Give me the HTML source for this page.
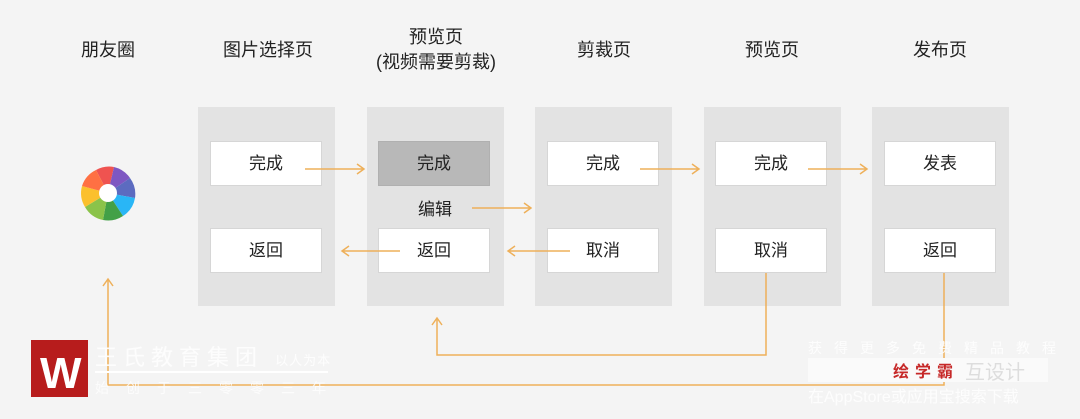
<!DOCTYPE html>
<html><head><meta charset="utf-8"><style>
body{margin:0;width:1080px;height:419px;background:#f4f4f4;font-family:"Liberation Sans","Noto Sans CJK SC",sans-serif;position:relative;overflow:hidden}
.t{position:absolute;font-size:18px;color:#222;text-align:center;width:160px;line-height:25px}
.p{position:absolute;top:107px;width:137px;height:199px;background:#e3e3e3}
.b{position:absolute;width:112px;height:45px;background:#fff;border:1px solid #d6d6d6;box-sizing:border-box;font-size:17px;color:#222;text-align:center;line-height:44px}
</style></head><body>
<div class="t" style="left:28px;top:38px">朋友圈</div>
<div class="t" style="left:188px;top:38px">图片选择页</div>
<div class="t" style="left:356px;top:25px">预览页<br>(视频需要剪裁)</div>
<div class="t" style="left:524px;top:38px">剪裁页</div>
<div class="t" style="left:692px;top:38px">预览页</div>
<div class="t" style="left:860px;top:38px">发布页</div>

<div class="p" style="left:198px"></div>
<div class="p" style="left:367px"></div>
<div class="p" style="left:535px"></div>
<div class="p" style="left:704px"></div>
<div class="p" style="left:872px"></div>

<div class="b" style="left:210px;top:141px">完成</div>
<div class="b" style="left:378px;top:141px;background:#b8b8b8;border-color:#b0b0b0">完成</div>
<div class="b" style="left:547px;top:141px">完成</div>
<div class="b" style="left:715px;top:141px">完成</div>
<div class="b" style="left:884px;top:141px">发表</div>
<div class="b" style="left:210px;top:228px">返回</div>
<div class="b" style="left:378px;top:228px">返回</div>
<div class="b" style="left:547px;top:228px">取消</div>
<div class="b" style="left:715px;top:228px">取消</div>
<div class="b" style="left:884px;top:228px">返回</div>
<div style="position:absolute;left:395px;top:195px;width:80px;text-align:center;font-size:17px;color:#222">编辑</div>

<svg width="1080" height="419" style="position:absolute;left:0;top:0" fill="none" stroke="#eeb05a" stroke-width="1.5">
<g>
<path d="M305 169H364M357 164l7 5-7 5"/>
<path d="M640 169H699M692 164l7 5-7 5"/>
<path d="M808 169H867M860 164l7 5-7 5"/>
<path d="M472 208H531M524 203l7 5-7 5"/>
<path d="M400 251H342M349 246l-7 5 7 5"/>
<path d="M570 251H508M515 246l-7 5 7 5"/>
<path d="M766 273V355H437V318M432 325l5-7 5 7"/>
<path d="M944 273V385H108V279M103 286l5-7 5 7"/>
</g>
<g transform="translate(108,193)" stroke="none">
<path d="M0 0L-12-23A27 27 0 0 1 6-26Z" fill="#ef5350"/>
<path d="M0 0L6-26A27 27 0 0 1 22-15Z" fill="#7e57c2"/>
<path d="M0 0L22-15A27 27 0 0 1 27 5Z" fill="#5c6bc0"/>
<path d="M0 0L27 5A27 27 0 0 1 15 23Z" fill="#29b6f6"/>
<path d="M0 0L15 23A27 27 0 0 1 -5 27Z" fill="#43a047"/>
<path d="M0 0L-5 27A27 27 0 0 1 -23 14Z" fill="#8bc34a"/>
<path d="M0 0L-23 14A27 27 0 0 1 -26-7Z" fill="#fbc02d"/>
<path d="M0 0L-26-7A27 27 0 0 1 -12-23Z" fill="#ff7043"/>
<circle r="9" fill="#fff"/>
</g>
<rect x="31" y="340" width="57" height="57" fill="#b71c1c" stroke="none"/>
<text x="40" y="388" font-size="44" fill="#fff" stroke="none" font-family="Liberation Sans" font-weight="bold">W</text>
<line x1="95" y1="372" x2="328" y2="372" stroke="#fff" stroke-width="2"/>
</svg>
<div style="position:absolute;left:95px;top:340px;color:#fff;font-size:22px;opacity:.9;letter-spacing:6px">王氏教育集团 <span style="font-size:13px;letter-spacing:1px">以人为本</span></div>
<div style="position:absolute;left:95px;top:378px;color:#fff;font-size:14px;letter-spacing:17px;opacity:.8">始创于三零零三年</div>
<div style="position:absolute;left:808px;top:338px;color:#fff;font-size:14px;letter-spacing:12px;opacity:.9">获得更多免费精品教程</div>
<div style="position:absolute;left:808px;top:358px;width:240px;height:24px;background:#fafafa"></div>
<div style="position:absolute;left:893px;top:358px;color:#c62828;font-size:16px;font-weight:bold;letter-spacing:6px">绘学霸</div>
<div style="position:absolute;left:965px;top:356px;color:#ddd;font-size:20px">互设计</div>
<div style="position:absolute;left:808px;top:383px;color:#fff;font-size:16px;opacity:.9">在AppStore或应用宝搜索下载</div>
</body></html>
